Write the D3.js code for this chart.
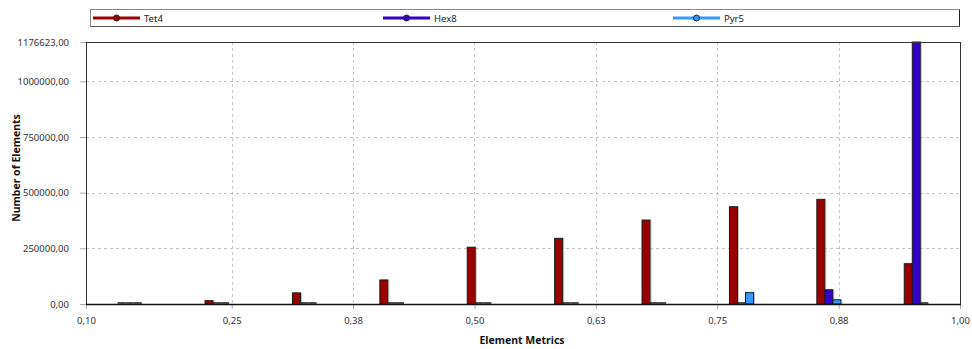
<!DOCTYPE html>
<html>
<head>
<meta charset="utf-8">
<script src="https://cdn.jsdelivr.net/npm/d3@7"></script>
<style>
  html, body { margin: 0; padding: 0; background: #fff; }
  svg { display: block; font-family: "Noto Sans", "Open Sans", sans-serif; }
</style>
</head>
<body>
<svg id="chart" width="972" height="349"></svg>
<script>
// ---- data ----
const binCenters = [0.145, 0.235, 0.325, 0.415, 0.505, 0.595, 0.685, 0.775, 0.865, 0.955];
const tet4 = [0, 15000, 50000, 108000, 255000, 295000, 377000, 437000, 470000, 181000];
const hex8 = [0, 0, 0, 0, 0, 0, 0, 0, 64000, 1176623];
const pyr5 = [0, 0, 0, 0, 0, 0, 0, 51000, 19000, 0];
const seriesNames = ["Tet4", "Hex8", "Pyr5"];
const seriesColors = ["#990000", "#3300CC", "#3399FF"];
const xTicks = [0.10, 0.25, 0.375, 0.50, 0.625, 0.75, 0.875, 1.00];
const xTickLabels = ["0,10", "0,25", "0,38", "0,50", "0,63", "0,75", "0,88", "1,00"];
const yTicks = [0, 250000, 500000, 750000, 1000000, 1176623];
const yTickLabels = ["0,00", "250000,00", "500000,00", "750000,00", "1000000,00", "1176623,00"];
const binWidth = 0.09;

const svg = d3.select("#chart");
const L = 86, R = 960, T = 42, B = 304;
const x = d3.scaleLinear().domain([0.1, 1.0]).range([L, R]);
const y = d3.scaleLinear().domain([0, 1176623]).range([B, T]);

// gridlines
const grid = svg.append("g");
grid.selectAll("line.vg").data(xTicks.filter(t => t > 0.1 && t < 1.0)).enter().append("line")
  .attr("x1", d => Math.round(x(d)) + 0.5).attr("x2", d => Math.round(x(d)) + 0.5)
  .attr("y1", T).attr("y2", B)
  .attr("stroke", "#c4c4c4").attr("stroke-dasharray", "3,3");
grid.selectAll("line.hg").data(yTicks.filter(t => t > 0 && t < 1176623)).enter().append("line")
  .attr("x1", L).attr("x2", R)
  .attr("y1", d => Math.round(y(d)) + 0.5).attr("y2", d => Math.round(y(d)) + 0.5)
  .attr("stroke", "#c4c4c4").attr("stroke-dasharray", "3,3");

// axes
const yAxis = d3.axisLeft(y).tickValues(yTicks).tickFormat((d, i) => yTickLabels[i]).tickSize(6).tickPadding(11);
const gy = svg.append("g").attr("transform", `translate(${L},0)`).call(yAxis);
gy.select(".domain").remove();
gy.selectAll(".tick line").attr("stroke", "#aaa");
gy.selectAll(".tick text").attr("font-size", "9.5px").attr("fill", "#333").attr("font-family", "'Noto Sans', sans-serif");

const xAxis = d3.axisBottom(x).tickValues(xTicks).tickFormat((d, i) => xTickLabels[i]).tickSize(5).tickPadding(8);
const gx = svg.append("g").attr("transform", `translate(0,${B})`).call(xAxis);
gx.select(".domain").remove();
gx.selectAll(".tick line").attr("stroke", "#aaa");
gx.selectAll(".tick text").attr("font-size", "9.5px").attr("fill", "#333").attr("font-family", "'Noto Sans', sans-serif");

// bars
const px = x(0.1 + binWidth) - x(0.1);
const barW = px * 0.092;
const allSeries = [tet4, hex8, pyr5];
const barsG = svg.append("g");
allSeries.forEach((vals, si) => {
  const off = (si - 1.5) * barW;
  vals.forEach((v, i) => {
    const x0 = x(binCenters[i]) + off;
    if (v > 0) {
      barsG.append("rect")
        .attr("x", x0).attr("y", y(v))
        .attr("width", barW).attr("height", B - y(v))
        .attr("fill", seriesColors[si])
        .attr("stroke", "#1a1a1a").attr("stroke-width", 1);
      barsG.append("line")
        .attr("x1", x0 + barW + 1).attr("x2", x0 + barW + 1)
        .attr("y1", y(v)).attr("y2", B)
        .attr("stroke", "#999").attr("stroke-width", 1).attr("opacity", 0.6);
    } else {
      barsG.append("line")
        .attr("x1", x0).attr("x2", x0 + barW)
        .attr("y1", B - 1).attr("y2", B - 1)
        .attr("stroke", "#1a1a1a").attr("stroke-width", 1.5);
    }
  });
});

// plot frame
svg.append("rect").attr("x", L + 0.5).attr("y", T + 0.5).attr("width", R - L).attr("height", B - T)
  .attr("fill", "none").attr("stroke", "#333").attr("stroke-width", 1);
svg.append("line").attr("x1", L).attr("x2", R + 1).attr("y1", B + 0.5).attr("y2", B + 0.5)
  .attr("stroke", "#111").attr("stroke-width", 1.5);

// axis titles
svg.append("text").attr("x", 522).attr("y", 344).attr("text-anchor", "middle")
  .attr("font-size", "10.5px").attr("font-weight", "bold").attr("fill", "#111")
  .text("Element Metrics");
svg.append("text").attr("transform", "translate(20,168) rotate(-90)").attr("text-anchor", "middle")
  .attr("font-size", "10.5px").attr("font-weight", "bold").attr("fill", "#111")
  .text("Number of Elements");

// legend
const lg = svg.append("g");
lg.append("rect").attr("x", 90.5).attr("y", 9.5).attr("width", 869).attr("height", 17)
  .attr("fill", "#fff").attr("stroke", "#888");
lg.append("line").attr("x1", 959.5).attr("x2", 959.5).attr("y1", 9.5).attr("y2", 27).attr("stroke", "#222");
lg.append("line").attr("x1", 90.5).attr("x2", 960).attr("y1", 26.5).attr("y2", 26.5).attr("stroke", "#555");
const legX = [93, 383, 673];
seriesNames.forEach((name, i) => {
  const g = lg.append("g").attr("transform", `translate(${legX[i]},18)`);
  g.append("line").attr("x1", 0).attr("x2", 47).attr("y1", 0).attr("y2", 0)
    .attr("stroke", seriesColors[i]).attr("stroke-width", 3);
  g.append("circle").attr("cx", 23.5).attr("cy", 0).attr("r", 3)
    .attr("fill", seriesColors[i]).attr("stroke", "#222").attr("stroke-width", 1);
  g.append("text").attr("x", 51).attr("y", 3.5).attr("font-size", "9.5px").attr("fill", "#222")
    .text(name);
});
</script>
</body>
</html>
